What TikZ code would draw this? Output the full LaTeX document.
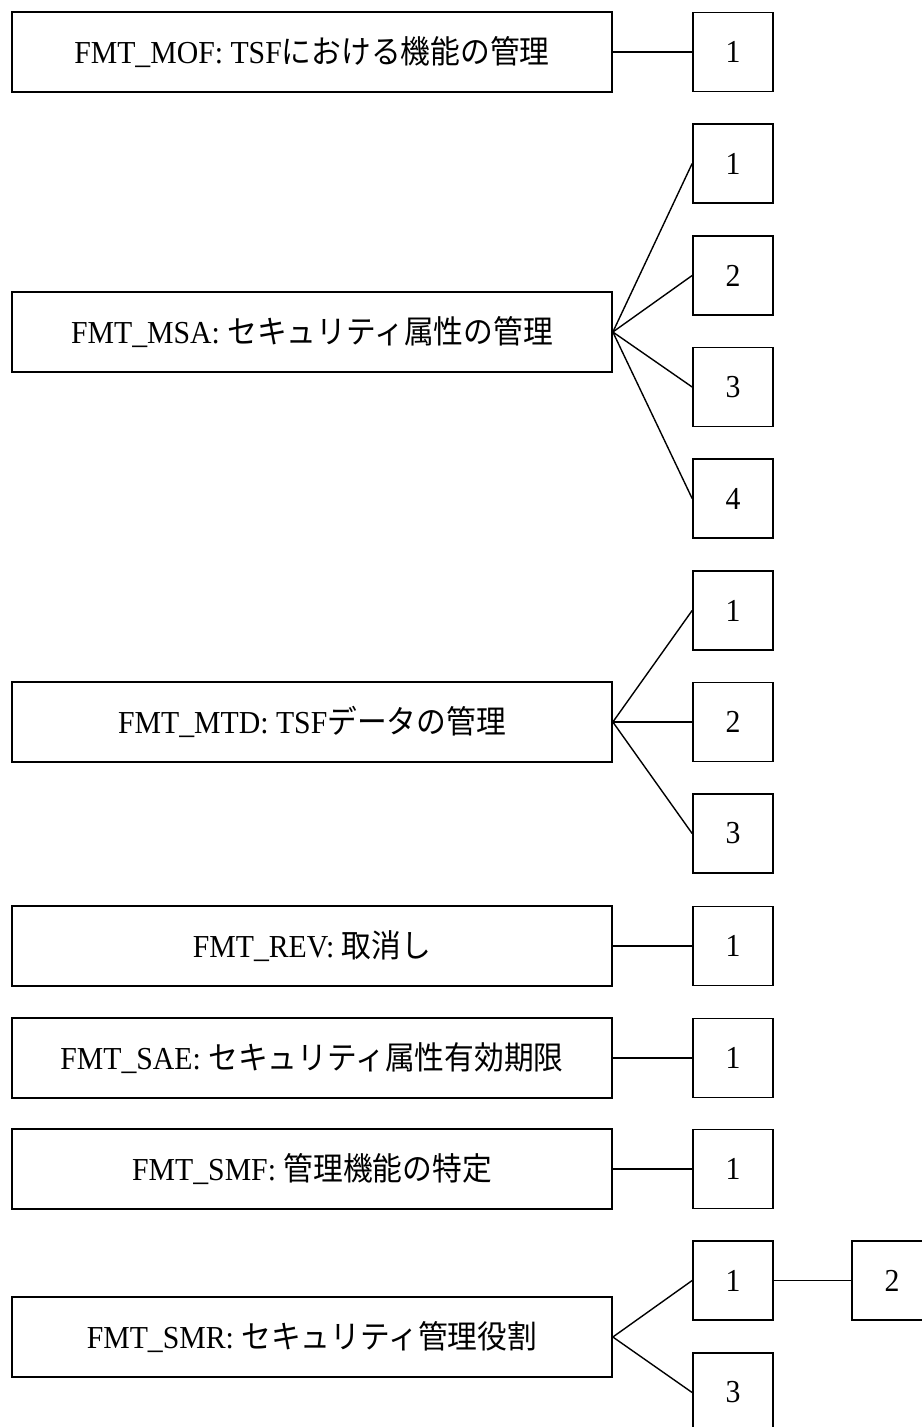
\documentclass[tikz,border=0pt]{standalone}
\usepackage{fontspec}
\setmainfont[FakeStretch=0.93]{Liberation Serif}
\newfontfamily\jpfont[FakeStretch=0.93]{Noto Sans CJK JP}
\newcommand{\ja}[1]{{\jpfont #1}}
\begin{document}
\begin{tikzpicture}[x=1pt,y=-1pt,
  mainbox/.style={draw,line width=1.7pt,minimum width=600pt,minimum height=80pt,inner sep=0pt,font=\fontsize{32}{38}\selectfont},
  numbox/.style={draw,line width=1.7pt,minimum width=80pt,minimum height=79pt,inner sep=0pt,font=\fontsize{32}{38}\selectfont},
  link/.style={line width=1.4pt}]
\useasboundingbox (0,0) rectangle (921,1427);
% MOF
\node[mainbox] (mof) at (312,52) {FMT\_MOF: TSF\ja{における機能の管理}};
\node[numbox] (mof1) at (733,52) {1};
\draw[link] (mof.east) -- (mof1.west);
% MSA
\node[mainbox] (msa) at (312,332) {FMT\_MSA: \ja{セキュリティ属性の管理}};
\node[numbox] (msa1) at (733,163.5) {1};
\node[numbox] (msa2) at (733,275.5) {2};
\node[numbox] (msa3) at (733,387) {3};
\node[numbox] (msa4) at (733,498.5) {4};
\foreach \n in {1,2,3,4} \draw[link] (msa.east) -- (msa\n.west);
% MTD
\node[mainbox] (mtd) at (312,722) {FMT\_MTD: TSF\ja{データの管理}};
\node[numbox] (mtd1) at (733,610.5) {1};
\node[numbox] (mtd2) at (733,722) {2};
\node[numbox] (mtd3) at (733,833.5) {3};
\foreach \n in {1,2,3} \draw[link] (mtd.east) -- (mtd\n.west);
% REV
\node[mainbox] (rev) at (312,946) {FMT\_REV: \ja{取消し}};
\node[numbox] (rev1) at (733,946) {1};
\draw[link] (rev.east) -- (rev1.west);
% SAE
\node[mainbox] (sae) at (312,1058) {FMT\_SAE: \ja{セキュリティ属性有効期限}};
\node[numbox] (sae1) at (733,1058) {1};
\draw[link] (sae.east) -- (sae1.west);
% SMF
\node[mainbox] (smf) at (312,1169) {FMT\_SMF: \ja{管理機能の特定}};
\node[numbox] (smf1) at (733,1169) {1};
\draw[link] (smf.east) -- (smf1.west);
% SMR
\node[mainbox] (smr) at (312,1337) {FMT\_SMR: \ja{セキュリティ管理役割}};
\node[numbox] (smr1) at (733,1280.5) {1};
\node[numbox] (smr2) at (892,1280.5) {2};
\node[numbox] (smr3) at (733,1392.5) {3};
\draw[link] (smr.east) -- (smr1.west);
\draw[link] (smr.east) -- (smr3.west);
\draw[link] (smr1.east) -- (smr2.west);
\end{tikzpicture}
\end{document}
